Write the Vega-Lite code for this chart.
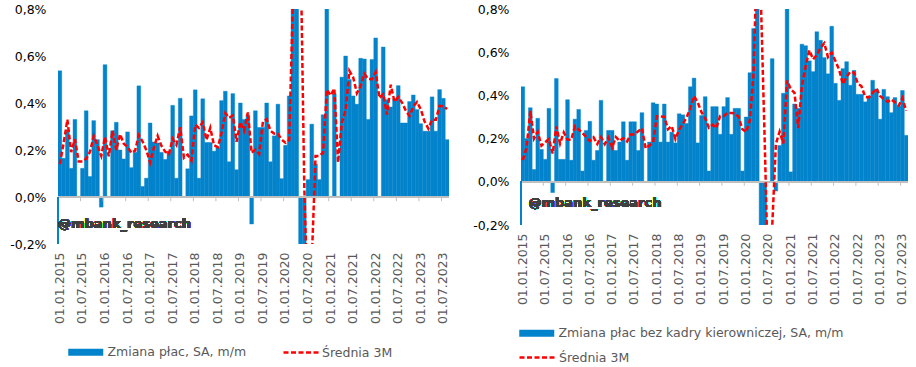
{
  "$schema": "https://vega.github.io/schema/vega-lite/v6.json",
  "padding": {"left": 8, "top": 3, "right": 4, "bottom": 0},
  "spacing": 21,
  "config": {
    "view": {"stroke": null},
    "font": "DejaVu Sans",
    "axis": {"grid": false, "title": null},
    "legend": {"labelFont": "DejaVu Sans", "labelFontSize": 12.5, "labelColor": "#595959", "labelLimit": 500, "title": null, "symbolOpacity": 1, "padding": 0}
  },
  "resolve": {"scale": {"fill": "independent", "stroke": "independent", "x": "independent", "y": "independent"}, "legend": {"fill": "independent", "stroke": "independent"}},
  "datasets": {
    "left": [
      {"d":"2015-01","v":0.537,"a":0.14},{"d":"2015-02","v":0.165,"a":0.23},{"d":"2015-03","v":0.286,"a":0.329},{"d":"2015-04","v":0.122,"a":0.191},{"d":"2015-05","v":0.33,"a":0.246},{"d":"2015-06","v":0.0,"a":0.151},{"d":"2015-07","v":0.122,"a":0.151},{"d":"2015-08","v":0.367,"a":0.163},{"d":"2015-09","v":0.087,"a":0.192},{"d":"2015-10","v":0.325,"a":0.26},{"d":"2015-11","v":0.244,"a":0.219},{"d":"2015-12","v":-0.043,"a":0.175},
      {"d":"2016-01","v":0.563,"a":0.255},{"d":"2016-02","v":0.0,"a":0.173},{"d":"2016-03","v":0.282,"a":0.282},{"d":"2016-04","v":0.318,"a":0.2},{"d":"2016-05","v":0.2,"a":0.267},{"d":"2016-06","v":0.162,"a":0.227},{"d":"2016-07","v":0.277,"a":0.213},{"d":"2016-08","v":0.125,"a":0.188},{"d":"2016-09","v":0.19,"a":0.197},{"d":"2016-10","v":0.473,"a":0.263},{"d":"2016-11","v":0.045,"a":0.236},{"d":"2016-12","v":0.08,"a":0.199},
      {"d":"2017-01","v":0.315,"a":0.147},{"d":"2017-02","v":0.234,"a":0.21},{"d":"2017-03","v":0.23,"a":0.26},{"d":"2017-04","v":0.19,"a":0.218},{"d":"2017-05","v":0.16,"a":0.193},{"d":"2017-06","v":0.195,"a":0.182},{"d":"2017-07","v":0.39,"a":0.248},{"d":"2017-08","v":0.08,"a":0.222},{"d":"2017-09","v":0.42,"a":0.297},{"d":"2017-10","v":0.0,"a":0.167},{"d":"2017-11","v":0.12,"a":0.18},{"d":"2017-12","v":0.345,"a":0.155},
      {"d":"2018-01","v":0.456,"a":0.307},{"d":"2018-02","v":0.08,"a":0.294},{"d":"2018-03","v":0.418,"a":0.318},{"d":"2018-04","v":0.232,"a":0.243},{"d":"2018-05","v":0.232,"a":0.294},{"d":"2018-06","v":0.195,"a":0.22},{"d":"2018-07","v":0.21,"a":0.212},{"d":"2018-08","v":0.41,"a":0.272},{"d":"2018-09","v":0.45,"a":0.357},{"d":"2018-10","v":0.15,"a":0.337},{"d":"2018-11","v":0.44,"a":0.347},{"d":"2018-12","v":0.116,"a":0.235},
      {"d":"2019-01","v":0.40,"a":0.319},{"d":"2019-02","v":0.33,"a":0.282},{"d":"2019-03","v":0.35,"a":0.36},{"d":"2019-04","v":-0.115,"a":0.188},{"d":"2019-05","v":0.367,"a":0.201},{"d":"2019-06","v":0.296,"a":0.183},{"d":"2019-07","v":0.296,"a":0.32},{"d":"2019-08","v":0.40,"a":0.331},{"d":"2019-09","v":0.15,"a":0.282},{"d":"2019-10","v":0.26,"a":0.27},{"d":"2019-11","v":0.395,"a":0.268},{"d":"2019-12","v":0.078,"a":0.244},
      {"d":"2020-01","v":0.22,"a":0.231},{"d":"2020-02","v":0.43,"a":0.243},{"d":"2020-03","v":1.9,"a":0.85},{"d":"2020-04","v":1.75,"a":1.36},{"d":"2020-05","v":-0.4,"a":1.083},{"d":"2020-06","v":-1.2,"a":0.05},{"d":"2020-07","v":0.074,"a":-0.509},{"d":"2020-08","v":0.31,"a":-0.272},{"d":"2020-09","v":0.14,"a":0.175},{"d":"2020-10","v":0.074,"a":0.175},{"d":"2020-11","v":0.35,"a":0.188},{"d":"2020-12","v":0.947,"a":0.457},
      {"d":"2021-01","v":0.0,"a":0.432},{"d":"2021-02","v":0.44,"a":0.462},{"d":"2021-03","v":0.0,"a":0.147},{"d":"2021-04","v":0.51,"a":0.317},{"d":"2021-05","v":0.60,"a":0.37},{"d":"2021-06","v":0.50,"a":0.537},{"d":"2021-07","v":0.43,"a":0.51},{"d":"2021-08","v":0.395,"a":0.442},{"d":"2021-09","v":0.59,"a":0.472},{"d":"2021-10","v":0.587,"a":0.524},{"d":"2021-11","v":0.33,"a":0.502},{"d":"2021-12","v":0.585,"a":0.501},
      {"d":"2022-01","v":0.677,"a":0.531},{"d":"2022-02","v":0.0,"a":0.421},{"d":"2022-03","v":0.638,"a":0.438},{"d":"2022-04","v":0.414,"a":0.351},{"d":"2022-05","v":0.383,"a":0.478},{"d":"2022-06","v":0.417,"a":0.405},{"d":"2022-07","v":0.474,"a":0.425},{"d":"2022-08","v":0.315,"a":0.402},{"d":"2022-09","v":0.315,"a":0.368},{"d":"2022-10","v":0.406,"a":0.345},{"d":"2022-11","v":0.434,"a":0.385},{"d":"2022-12","v":0.372,"a":0.404},
      {"d":"2023-01","v":0.312,"a":0.373},{"d":"2023-02","v":0.28,"a":0.321},{"d":"2023-03","v":0.28,"a":0.291},{"d":"2023-04","v":0.426,"a":0.329},{"d":"2023-05","v":0.28,"a":0.329},{"d":"2023-06","v":0.457,"a":0.388},{"d":"2023-07","v":0.42,"a":0.386},{"d":"2023-08","v":0.244,"a":0.374}
    ],
    "right": [
      {"d":"2015-01","v":0.44,"a":0.10},{"d":"2015-02","v":0.20,"a":0.16},{"d":"2015-03","v":0.343,"a":0.328},{"d":"2015-04","v":0.057,"a":0.2},{"d":"2015-05","v":0.294,"a":0.231},{"d":"2015-06","v":0.15,"a":0.167},{"d":"2015-07","v":0.104,"a":0.183},{"d":"2015-08","v":0.34,"a":0.198},{"d":"2015-09","v":-0.05,"a":0.131},{"d":"2015-10","v":0.478,"a":0.256},{"d":"2015-11","v":0.104,"a":0.177},{"d":"2015-12","v":0.104,"a":0.229},
      {"d":"2016-01","v":0.38,"a":0.196},{"d":"2016-02","v":0.10,"a":0.195},{"d":"2016-03","v":0.29,"a":0.257},{"d":"2016-04","v":0.335,"a":0.242},{"d":"2016-05","v":0.05,"a":0.225},{"d":"2016-06","v":0.238,"a":0.208},{"d":"2016-07","v":0.28,"a":0.189},{"d":"2016-08","v":0.10,"a":0.206},{"d":"2016-09","v":0.145,"a":0.175},{"d":"2016-10","v":0.377,"a":0.207},{"d":"2016-11","v":0.0,"a":0.174},{"d":"2016-12","v":0.238,"a":0.205},
      {"d":"2017-01","v":0.238,"a":0.159},{"d":"2017-02","v":0.145,"a":0.207},{"d":"2017-03","v":0.184,"a":0.189},{"d":"2017-04","v":0.278,"a":0.202},{"d":"2017-05","v":0.10,"a":0.187},{"d":"2017-06","v":0.278,"a":0.219},{"d":"2017-07","v":0.278,"a":0.219},{"d":"2017-08","v":0.145,"a":0.234},{"d":"2017-09","v":0.32,"a":0.248},{"d":"2017-10","v":0.0,"a":0.155},{"d":"2017-11","v":0.184,"a":0.168},{"d":"2017-12","v":0.366,"a":0.183},
      {"d":"2018-01","v":0.36,"a":0.303},{"d":"2018-02","v":0.184,"a":0.303},{"d":"2018-03","v":0.36,"a":0.301},{"d":"2018-04","v":0.184,"a":0.243},{"d":"2018-05","v":0.23,"a":0.258},{"d":"2018-06","v":0.18,"a":0.198},{"d":"2018-07","v":0.315,"a":0.242},{"d":"2018-08","v":0.31,"a":0.268},{"d":"2018-09","v":0.27,"a":0.298},{"d":"2018-10","v":0.44,"a":0.34},{"d":"2018-11","v":0.48,"a":0.397},{"d":"2018-12","v":0.18,"a":0.367},
      {"d":"2019-01","v":0.307,"a":0.322},{"d":"2019-02","v":0.394,"a":0.294},{"d":"2019-03","v":0.05,"a":0.25},{"d":"2019-04","v":0.348,"a":0.264},{"d":"2019-05","v":0.348,"a":0.249},{"d":"2019-06","v":0.22,"a":0.305},{"d":"2019-07","v":0.348,"a":0.305},{"d":"2019-08","v":0.39,"a":0.319},{"d":"2019-09","v":0.22,"a":0.319},{"d":"2019-10","v":0.34,"a":0.317},{"d":"2019-11","v":0.34,"a":0.3},{"d":"2019-12","v":0.05,"a":0.243},
      {"d":"2020-01","v":0.30,"a":0.23},{"d":"2020-02","v":0.505,"a":0.285},{"d":"2020-03","v":0.71,"a":0.505},{"d":"2020-04","v":2.1,"a":1.105},{"d":"2020-05","v":-0.35,"a":0.82},{"d":"2020-06","v":-1.2,"a":0.183},{"d":"2020-07","v":0.0,"a":-0.517},{"d":"2020-08","v":0.57,"a":-0.21},{"d":"2020-09","v":-0.043,"a":0.176},{"d":"2020-10","v":0.168,"a":0.232},{"d":"2020-11","v":0.41,"a":0.178},{"d":"2020-12","v":0.83,"a":0.469},
      {"d":"2021-01","v":0.046,"a":0.429},{"d":"2021-02","v":0.36,"a":0.412},{"d":"2021-03","v":0.34,"a":0.249},{"d":"2021-04","v":0.637,"a":0.446},{"d":"2021-05","v":0.63,"a":0.536},{"d":"2021-06","v":0.56,"a":0.609},{"d":"2021-07","v":0.51,"a":0.567},{"d":"2021-08","v":0.695,"a":0.588},{"d":"2021-09","v":0.655,"a":0.62},{"d":"2021-10","v":0.575,"a":0.642},{"d":"2021-11","v":0.50,"a":0.577},{"d":"2021-12","v":0.72,"a":0.598},
      {"d":"2022-01","v":0.456,"a":0.559},{"d":"2022-02","v":0.377,"a":0.518},{"d":"2022-03","v":0.524,"a":0.452},{"d":"2022-04","v":0.556,"a":0.486},{"d":"2022-05","v":0.447,"a":0.509},{"d":"2022-06","v":0.516,"a":0.506},{"d":"2022-07","v":0.405,"a":0.456},{"d":"2022-08","v":0.405,"a":0.442},{"d":"2022-09","v":0.37,"a":0.393},{"d":"2022-10","v":0.397,"a":0.391},{"d":"2022-11","v":0.47,"a":0.412},{"d":"2022-12","v":0.43,"a":0.432},
      {"d":"2023-01","v":0.29,"a":0.397},{"d":"2023-02","v":0.428,"a":0.383},{"d":"2023-03","v":0.394,"a":0.371},{"d":"2023-04","v":0.32,"a":0.381},{"d":"2023-05","v":0.39,"a":0.368},{"d":"2023-06","v":0.35,"a":0.353},{"d":"2023-07","v":0.423,"a":0.388},{"d":"2023-08","v":0.215,"a":0.329}
    ]
  },
  "hconcat": [
    {
      "width": 391,
      "height": 235,
      "data": {"name": "left"},
      "layer": [
        {
          "mark": {"type": "bar", "clip": true, "strokeWidth": 0.4, "stroke": "#0383CB"},
          "encoding": {
            "x": {"field": "d", "type": "ordinal", "sort": null, "scale": {"paddingInner": 0, "paddingOuter": 0},
              "axis": {"values": ["2015-01","2015-07","2016-01","2016-07","2017-01","2017-07","2018-01","2018-07","2019-01","2019-07","2020-01","2020-07","2021-01","2021-07","2022-01","2022-07","2023-01","2023-07"],
                "labelExpr": "'01.' + substring(datum.value, 5, 7) + '.' + substring(datum.value, 0, 4)",
                "labelAngle": -90, "labelFontSize": 12.5, "labelColor": "#595959", "labelPadding": 8, "ticks": false, "domain": false, "labelOverlap": false}},
            "y": {"field": "v", "type": "quantitative", "scale": {"domain": [-0.2, 0.8], "nice": false, "zero": false},
              "axis": {"values": [-0.2, 0, 0.2, 0.4, 0.6, 0.8], "labelExpr": "replace(replace(format(datum.value, '.1f'), '.', ','), '\u2212', '-') + '%'",
                "labelFontSize": 12.5, "labelColor": "#000000", "ticks": false, "domain": false, "labelPadding": 12, "minExtent": 50, "maxExtent": 50}},
            "fill": {"datum": "Zmiana płac, SA, m/m", "scale": {"range": ["#0383CB"]},
              "legend": {"orient": "none", "legendX": 9, "legendY": 337, "symbolType": "M-1,-0.7H6V0.7H-1Z", "symbolSize": 100, "labelOffset": 28, "symbolStrokeWidth": 0}}
          }
        },
        {
          "mark": {"type": "rule", "color": "#BFBFBF", "strokeWidth": 1},
          "encoding": {"y": {"datum": 0}}
        },
        {
          "transform": [{"filter": "substring(datum.d, 5, 7) == '01' || substring(datum.d, 5, 7) == '07'"}],
          "mark": {"type": "rule", "color": "#BFBFBF", "strokeWidth": 1},
          "encoding": {"x": {"field": "d", "type": "ordinal", "bandPosition": 0}, "y": {"datum": 0}, "y2": {"datum": -0.018}}
        },
        {
          "mark": {"type": "rule", "color": "#0383CB", "strokeWidth": 1},
          "encoding": {"x": {"datum": "2015-01", "type": "ordinal", "bandPosition": 0}, "y": {"datum": 0}, "y2": {"datum": -0.2}}
        },
        {
          "mark": {"type": "line", "clip": true, "strokeWidth": 2.5, "strokeDash": [5, 2.5]},
          "encoding": {
            "x": {"field": "d", "type": "ordinal"},
            "y": {"field": "a", "type": "quantitative"},
            "stroke": {"datum": "Średnia 3M", "scale": {"range": ["#FF0000"]},
              "legend": {"orient": "none", "legendX": 224, "legendY": 337, "symbolType": "M-1,0H6", "symbolSize": 100, "labelOffset": 27, "symbolDash": [5, 2.5], "symbolStrokeWidth": 2.5, "symbolFillColor": "transparent"}}
          }
        },
        {
          "mark": {"type": "text", "text": "@mbank_research", "align": "left", "baseline": "middle", "fontWeight": "bold", "fontSize": 13, "color": "#404040"},
          "encoding": {"x": {"datum": "2015-01", "type": "ordinal", "bandPosition": 0}, "y": {"datum": -0.115}}
        }
      ]
    },
    {
      "width": 387,
      "height": 216,
      "data": {"name": "right"},
      "layer": [
        {
          "mark": {"type": "bar", "clip": true, "strokeWidth": 0.4, "stroke": "#0383CB"},
          "encoding": {
            "x": {"field": "d", "type": "ordinal", "sort": null, "scale": {"paddingInner": 0, "paddingOuter": 0},
              "axis": {"values": ["2015-01","2015-07","2016-01","2016-07","2017-01","2017-07","2018-01","2018-07","2019-01","2019-07","2020-01","2020-07","2021-01","2021-07","2022-01","2022-07","2023-01","2023-07"],
                "labelExpr": "'01.' + substring(datum.value, 5, 7) + '.' + substring(datum.value, 0, 4)",
                "labelAngle": -90, "labelFontSize": 12.5, "labelColor": "#595959", "labelPadding": 8, "ticks": false, "domain": false, "labelOverlap": false}},
            "y": {"field": "v", "type": "quantitative", "scale": {"domain": [-0.2, 0.8], "nice": false, "zero": false},
              "axis": {"values": [-0.2, 0, 0.2, 0.4, 0.6, 0.8], "labelExpr": "replace(replace(format(datum.value, '.1f'), '.', ','), '\u2212', '-') + '%'",
                "labelFontSize": 12.5, "labelColor": "#000000", "ticks": false, "domain": false, "labelPadding": 12, "minExtent": 50, "maxExtent": 50}},
            "fill": {"datum": "Zmiana płac bez kadry kierowniczej, SA, m/m", "scale": {"range": ["#0383CB"]},
              "legend": {"orient": "none", "legendX": -3, "legendY": 318, "symbolType": "M-1,-0.7H6V0.7H-1Z", "symbolSize": 100, "labelOffset": 28, "symbolStrokeWidth": 0}}
          }
        },
        {
          "mark": {"type": "rule", "color": "#BFBFBF", "strokeWidth": 1},
          "encoding": {"y": {"datum": 0}}
        },
        {
          "transform": [{"filter": "substring(datum.d, 5, 7) == '01' || substring(datum.d, 5, 7) == '07'"}],
          "mark": {"type": "rule", "color": "#BFBFBF", "strokeWidth": 1},
          "encoding": {"x": {"field": "d", "type": "ordinal", "bandPosition": 0}, "y": {"datum": 0}, "y2": {"datum": -0.018}}
        },
        {
          "mark": {"type": "rule", "color": "#0383CB", "strokeWidth": 1},
          "encoding": {"x": {"datum": "2015-01", "type": "ordinal", "bandPosition": 0}, "y": {"datum": 0}, "y2": {"datum": -0.2}}
        },
        {
          "mark": {"type": "line", "clip": true, "strokeWidth": 2.5, "strokeDash": [5, 2.5]},
          "encoding": {
            "x": {"field": "d", "type": "ordinal"},
            "y": {"field": "a", "type": "quantitative"},
            "stroke": {"datum": "Średnia 3M", "scale": {"range": ["#FF0000"]},
              "legend": {"orient": "none", "legendX": -3, "legendY": 342, "symbolType": "M-1,0H6", "symbolSize": 100, "labelOffset": 28, "symbolDash": [5, 2.5], "symbolStrokeWidth": 2.5, "symbolFillColor": "transparent"}}
          }
        },
        {
          "mark": {"type": "text", "text": "@mbank_research", "align": "left", "baseline": "middle", "fontWeight": "bold", "fontSize": 13, "color": "#404040"},
          "encoding": {"x": {"datum": "2015-03", "type": "ordinal", "bandPosition": 0}, "y": {"datum": -0.1}}
        }
      ]
    }
  ]
}
